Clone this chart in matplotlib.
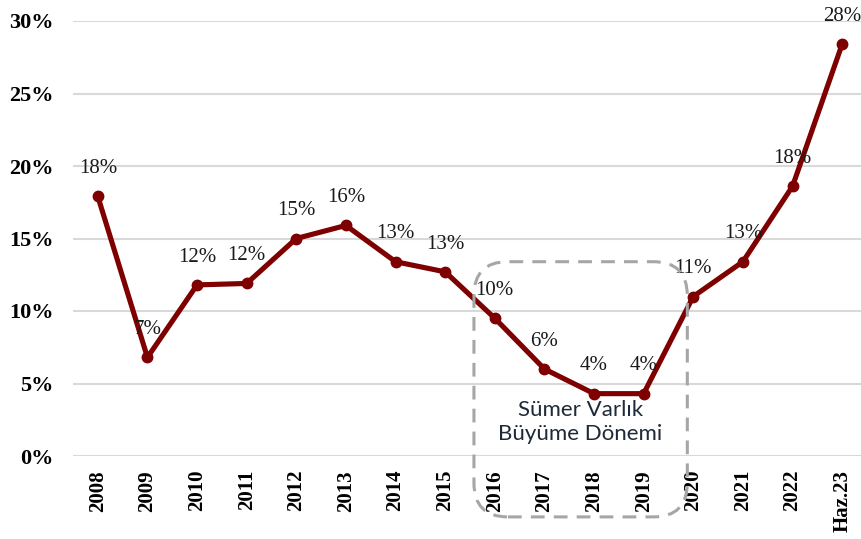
import numpy as np
import matplotlib.pyplot as plt
from matplotlib.patches import FancyBboxPatch
from matplotlib.transforms import IdentityTransform

# data
years = ["2008", "2009", "2010", "2011", "2012", "2013", "2014", "2015",
         "2016", "2017", "2018", "2019", "2020", "2021", "2022", "Haz.23"]
values = [17.9, 6.8, 11.8, 11.9, 15.0, 15.9, 13.4, 12.7,
          9.5, 6.0, 4.3, 4.3, 11.0, 13.4, 18.6, 28.4]
labels = ["18%", "7%", "12%", "12%", "15%", "16%", "13%", "13%",
          "10%", "6%", "4%", "4%", "11%", "13%", "18%", "28%"]

serif = "Liberation Serif"

fig = plt.figure(figsize=(8.61, 5.39), dpi=100)
ax = fig.add_axes([73 / 861, 83 / 539, 788 / 861, 435 / 539])

x = np.arange(len(years))
ax.plot(x, values, color="#7f0000", lw=3.7, marker="o", ms=7.5,
        solid_joinstyle="round", zorder=3, clip_on=False)

for xi, v, lab in zip(x, values, labels):
    ax.annotate(lab, (xi, v), xytext=(0, 20), textcoords="offset points",
                ha="center", va="center", fontsize=15, family=serif,
                color="#1a1a1a", zorder=4)

ax.set_xlim(-0.5, 15.38)
ax.set_ylim(0, 30)
ax.set_yticks(np.arange(0, 31, 5))
ax.set_yticklabels([f"{t}%" for t in range(0, 31, 5)],
                   fontsize=16, fontweight="bold", family=serif)
ax.set_xticks(x)
ax.set_xticklabels(years, rotation=90, fontsize=15, fontweight="bold",
                   family=serif)
ax.tick_params(length=0, pad=10)
ax.tick_params(axis="y", pad=14)
ax.grid(axis="y", color="#d9d9d9", lw=1.5)
ax.set_axisbelow(True)
for s in ax.spines.values():
    s.set_visible(False)

# dashed rounded box around the growth period
fig.canvas.draw()
(x0, y0) = ax.transData.transform((7.58, -4.2))
(x1, y1) = ax.transData.transform((11.88, 13.4))
box = FancyBboxPatch((x0, y0), x1 - x0, y1 - y0,
                     boxstyle="round,pad=0,rounding_size=34",
                     transform=IdentityTransform(), fill=False,
                     ec="#a6a6a6", lw=2.2, ls=(0, (4.5, 3)), zorder=2)
fig.patches.append(box)

ax.text(9.72, 2.35, "Sümer Varlık\nBüyüme Dönemi", ha="center", va="center",
        fontsize=16, family="Lato", color="#1f2a38",
        linespacing=1.25, zorder=5)

fig.savefig("out.png", dpi=100)
